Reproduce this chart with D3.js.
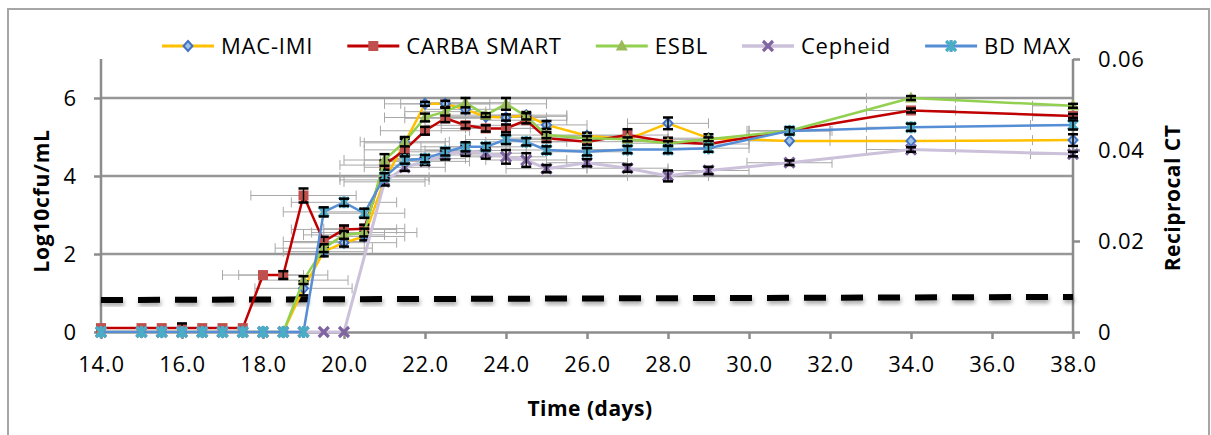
<!DOCTYPE html>
<html><head><meta charset="utf-8">
<script src="https://cdn.jsdelivr.net/npm/d3@7"></script>
<style>
body{margin:0;background:#fff}
text{font-family:"Open Sans",sans-serif;fill:#000}
</style>
</head><body>
<svg id="c" width="1211" height="435"></svg>
<script>
// ---------- data ----------
const days = [14,15,15.5,16,16.5,17,17.5,18,18.5,19,19.5,20,20.5,21,21.5,22,22.5,23,23.5,24,24.5,25,26,27,28,29,31,34,38];
const xTickValues = [14,16,18,20,22,24,26,28,30,32,34,36,38];
const leftTicks = [0,2,4,6];
const rightTicks = [0,0.02,0.04,0.06];
const seriesNames = ["MAC-IMI","CARBA SMART","ESBL","Cepheid","BD MAX"];

// Log10 cfu/mL (left axis)
const macImi = [0,0,0,0,0,0,0,0,0,1.12,2.06,2.29,2.45,3.9,4.85,5.85,5.85,5.71,5.52,5.5,5.56,5.31,5.03,4.94,5.35,4.97,4.9,4.9,4.92];
const carbaSmart = [0.1,0.1,0.1,0.1,0.1,0.1,0.1,1.46,1.46,3.5,2.32,2.63,2.65,4.28,4.67,5.16,5.48,5.3,5.22,5.22,5.43,4.97,4.88,5.05,4.88,4.82,5.16,5.68,5.54];
const esbl = [0,0,0,0,0,0,0,0,0,1.33,2.15,2.49,2.55,4.41,4.88,5.5,5.65,5.88,5.56,5.85,5.53,5.05,4.97,4.94,4.84,4.94,5.16,6.0,5.8];
// Reciprocal CT (right axis)
const cepheid = [0,0,0,0,0,0,0,0,0,0,0,0,null,0.033,0.0362,0.0375,0.0389,0.0399,0.0393,0.0385,0.0378,0.0359,0.0372,0.036,0.0343,0.0355,0.0372,0.0401,0.0391];
const bdMax = [0,0,0,0,0,0,0,0,0,0,0.0264,0.0285,0.0261,0.0341,0.0378,0.0381,0.0396,0.0407,0.0407,0.0423,0.0418,0.04,0.0396,0.0401,0.0401,0.0404,0.0442,0.045,0.0455];

// horizontal (time) error, days
const macImiXErr = [0,0,0,0,0,0,0,0,0,1.2,1.0,1.3,1.0,1.1,1.0,1.0,1.1,1.0,1.0,1.0,1.0,1.0,1.0,1.0,1.0,1.0,1.0,1.1,1.0];
const carbaXErr  = [0,0,0,0,0,0,0,1.0,1.1,1.3,1.0,1.3,1.0,1.1,1.0,1.1,1.0,1.0,1.1,1.0,1.0,1.0,1.0,1.0,1.0,1.0,1.0,1.1,1.0];
const esblXErr   = [0,0,0,0,0,0,0,0,0,1.1,1.2,1.0,1.3,1.0,1.1,1.0,1.0,1.1,1.0,1.0,1.0,1.0,1.0,1.0,1.0,1.0,1.0,1.1,1.0];
const cepheidXErr= [0,0,0,0,0,0,0,0,0,0,0,0,null,1.0,1.0,1.1,1.0,1.0,1.0,1.0,1.0,1.0,1.0,1.0,1.0,1.0,1.05,1.1,1.05];
const bdMaxXErr  = [0,0,0,0,0,0,0,0,0,0,1.0,1.3,1.0,1.1,1.0,1.0,1.0,1.1,1.0,1.0,1.0,1.0,1.0,1.0,1.0,1.0,1.05,1.1,1.05];
// vertical error (same units as the series)
const macImiYErr = [0,0,0,0,0,0,0,0,0,0.18,0.12,0.1,0.1,0.12,0.1,0.05,0.08,0.1,0.05,0.08,0.08,0.1,0.08,0.05,0.15,0.1,0,0,0.15];
const carbaYErr  = [0,0,0,0.12,0,0,0,0,0.1,0.18,0.12,0.1,0.1,0.12,0.12,0.1,0.1,0.08,0.08,0.1,0.08,0.1,0.08,0.15,0.1,0.08,0.05,0.05,0.05];
const esblYErr   = [0,0,0,0,0,0,0,0,0,0.1,0.1,0.1,0.1,0.15,0.12,0.1,0.1,0.12,0.05,0.15,0.08,0.08,0.05,0.05,0.05,0.05,0.05,0.05,0.05];
const cepheidYErr= [0,0,0,0,0,0,0,0,0,0,0,0,null,0.0008,0.0008,0.0008,0.001,0.0012,0.0012,0.0015,0.0015,0.0008,0.0008,0.0008,0.0012,0.0008,0.0005,0.0005,0.0005];
const bdMaxYErr  = [0,0,0,0,0,0,0,0,0,0,0.001,0.0008,0.001,0.0008,0.0008,0.0008,0.0008,0.001,0.0008,0.001,0.0008,0.0008,0.0008,0.0008,0.0008,0.0008,0.0008,0.0008,0.001];

// detection-limit dashed line (left axis units)
const lodDays = [14,38];
const lodValues = [0.82,0.9];

// ---------- chart ----------
const svg = d3.select("#c");
const x = d3.scaleLinear().domain([14,38]).range([101,1073]);
const yL = d3.scaleLinear().domain([0,7]).range([332,59]);
const yR = d3.scaleLinear().domain([0,0.06]).range([332,59]);
const gray = "#8c8c8c";

// outer frame
svg.append("rect").attr("x",8).attr("y",9).attr("width",1201).attr("height",450)
  .attr("fill","none").attr("stroke","#a6a6a6").attr("stroke-width",2);

const defs = svg.append("defs");
const f = defs.append("filter").attr("id","sh").attr("x","-5%").attr("y","-100%").attr("width","110%").attr("height","400%");
f.append("feDropShadow").attr("dx",1).attr("dy",3).attr("stdDeviation",2).attr("flood-color","#000").attr("flood-opacity",0.35);

// gridlines
svg.append("g").selectAll("line").data(leftTicks.filter(d=>d>0)).join("line")
  .attr("x1",x(14)).attr("x2",x(38)).attr("y1",d=>yL(d)).attr("y2",d=>yL(d))
  .attr("stroke","#979797").attr("stroke-width",2.5);

function styleAxis(g){
  g.select(".domain").attr("stroke",gray).attr("stroke-width",2.5);
  g.selectAll(".tick line").attr("stroke",gray).attr("stroke-width",2.5);
  g.selectAll("text").attr("font-size",22).attr("font-family","Open Sans").attr("fill","#000").attr("letter-spacing",0.8);
}
const gx = svg.append("g").attr("transform",`translate(0,${yL(0)})`)
  .call(d3.axisBottom(x).tickValues(xTickValues).tickFormat(d3.format(".1f")).tickSize(7).tickSizeOuter(0).tickPadding(17));
styleAxis(gx);
const gl = svg.append("g").attr("transform",`translate(${x(14)},0)`)
  .call(d3.axisLeft(yL).tickValues(leftTicks).tickFormat(d3.format("d")).tickSize(7).tickSizeOuter(0).tickPadding(17));
styleAxis(gl);
const gr = svg.append("g").attr("transform",`translate(${x(38)},0)`)
  .call(d3.axisRight(yR).tickValues(rightTicks).tickFormat(d=>d===0?"0":d3.format(".2f")(d)).tickSize(7).tickSizeOuter(0).tickPadding(18));
styleAxis(gr);
gl.select(".domain").attr("d",`M0,${yL(0)}V${yL(7)}`);
gr.select(".domain").attr("d",`M0,${yR(0)}V${yR(0.06)}`);

// axis titles
svg.append("text").attr("transform",`translate(49,201) rotate(-90)`).attr("text-anchor","middle")
  .attr("font-size",21).attr("font-weight","bold").attr("letter-spacing",0.8).text("Log10cfu/mL");
svg.append("text").attr("transform",`translate(1180,198) rotate(-90)`).attr("text-anchor","middle")
  .attr("font-size",21).attr("font-weight","bold").attr("letter-spacing",0.5).text("Reciprocal CT");
svg.append("text").attr("x",590).attr("y",416).attr("text-anchor","middle")
  .attr("font-size",21).attr("font-weight","bold").attr("letter-spacing",0.5).text("Time (days)");

// dashed LOD line
svg.append("path").datum(lodDays.map((d,i)=>[d,lodValues[i]]))
  .attr("d",d3.line().x(d=>x(d[0])).y(d=>yL(d[1])))
  .attr("fill","none").attr("stroke","#000").attr("stroke-width",6)
  .attr("stroke-dasharray","22,15").attr("filter","url(#sh)");

// series definitions
const series = [
  {name:seriesNames[0], vals:macImi, xe:macImiXErr, ye:macImiYErr, y:yL, line:"#FFC000", lw:2.5, marker:"diamond", mc:"#4472C4"},
  {name:seriesNames[1], vals:carbaSmart, xe:carbaXErr, ye:carbaYErr, y:yL, line:"#C00000", lw:2.5, marker:"square", mc:"#C0504D"},
  {name:seriesNames[2], vals:esbl, xe:esblXErr, ye:esblYErr, y:yL, line:"#92D050", lw:2.5, marker:"triangle", mc:"#9BBB59"},
  {name:seriesNames[3], vals:cepheid, xe:cepheidXErr, ye:cepheidYErr, y:yR, line:"#CCC1DA", lw:3, marker:"x", mc:"#8064A2"},
  {name:seriesNames[4], vals:bdMax, xe:bdMaxXErr, ye:bdMaxYErr, y:yR, line:"#558ED5", lw:2.5, marker:"star", mc:"#4BACC6"}
];

function drawMarker(g, s, cx, cy){
  const t = `translate(${cx},${cy})`;
  if(s.marker==="diamond"){
    g.append("path").attr("transform",t).attr("d","M0,-5L4.5,0L0,5L-4.5,0Z")
      .attr("fill","#9DC3E6").attr("stroke",s.mc).attr("stroke-width",2);
  } else if(s.marker==="square"){
    g.append("rect").attr("x",cx-5).attr("y",cy-5).attr("width",10).attr("height",10).attr("fill",s.mc);
  } else if(s.marker==="triangle"){
    g.append("path").attr("transform",t).attr("d","M0,-6.5L6,4.5L-6,4.5Z").attr("fill",s.mc);
  } else if(s.marker==="x"){
    g.append("path").attr("transform",t).attr("d","M-5,-5L5,5M-5,5L5,-5")
      .attr("stroke",s.mc).attr("stroke-width",3.2).attr("fill","none");
  } else {
    g.append("path").attr("transform",t).attr("d","M-5,-5L5,5M-5,5L5,-5M0,-6V6")
      .attr("stroke",s.mc).attr("stroke-width",3.2).attr("fill","none");
  }
}

// horizontal error bars (all series first)
const gxe = svg.append("g");
series.forEach(s=>{
  days.forEach((d,i)=>{
    const v=s.vals[i], e=s.xe[i];
    if(v==null || !e) return;
    const cy=s.y(v), x1=x(d-e), x2=x(Math.min(38,d+e));
    gxe.append("line").attr("x1",x1).attr("x2",x2).attr("y1",cy).attr("y2",cy)
      .attr("stroke","#a8a8a8").attr("stroke-width",1);
    [x1, d+e<=38?x2:null].forEach(xx=>{ if(xx==null) return;
      gxe.append("line").attr("x1",xx).attr("x2",xx).attr("y1",cy-5).attr("y2",cy+5)
        .attr("stroke","#a8a8a8").attr("stroke-width",1);});
  });
});

// series lines, markers, vertical error bars
series.forEach(s=>{
  const g = svg.append("g");
  const pts = days.map((d,i)=>[d,s.vals[i]]).filter(p=>p[1]!=null);
  g.append("path").datum(pts).attr("d",d3.line().x(p=>x(p[0])).y(p=>s.y(p[1])))
    .attr("fill","none").attr("stroke",s.line).attr("stroke-width",s.lw).attr("stroke-linejoin","round");
  days.forEach((d,i)=>{ const v=s.vals[i]; if(v==null) return; drawMarker(g,s,x(d),s.y(v)); });
  days.forEach((d,i)=>{
    const v=s.vals[i], e=s.ye[i];
    if(v==null || !e) return;
    const cx=x(d), y1=s.y(v-e), y2=s.y(v+e);
    g.append("line").attr("x1",cx).attr("x2",cx).attr("y1",y1).attr("y2",y2).attr("stroke","#000").attr("stroke-width",1.5);
    [y1,y2].forEach(yy=>g.append("line").attr("x1",cx-5).attr("x2",cx+5).attr("y1",yy).attr("y2",yy)
      .attr("stroke","#000").attr("stroke-width",2.5));
  });
});

// legend
const lg = svg.append("g");
let cx = 162; const ly = 46;
series.forEach(s=>{
  lg.append("line").attr("x1",cx).attr("x2",cx+52).attr("y1",ly).attr("y2",ly)
    .attr("stroke",s.line).attr("stroke-width",s.lw+0.5);
  drawMarker(lg,s,cx+26,ly);
  const t = lg.append("text").attr("x",cx+59).attr("y",ly+8).attr("font-size",22).attr("letter-spacing",0.8).text(s.name);
  cx += 59 + t.node().getComputedTextLength() + 34;
});
</script>
</body></html>
